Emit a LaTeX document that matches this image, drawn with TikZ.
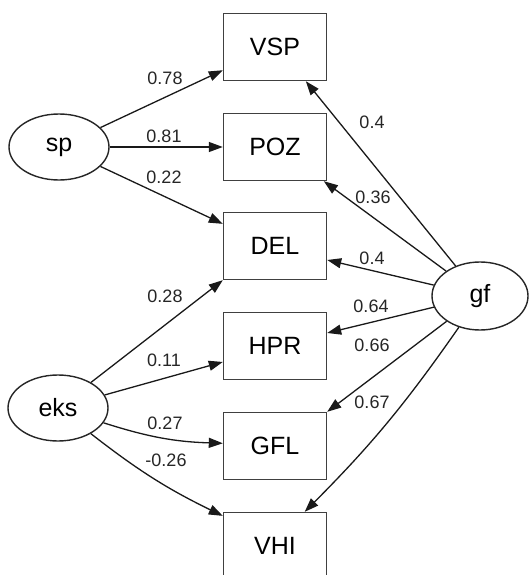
\documentclass[tikz,border=0pt]{standalone}
\usepackage{fontspec}
\setmainfont{Liberation Sans}
\usetikzlibrary{arrows.meta,shapes.geometric}
\begin{document}
\begin{tikzpicture}[x=1pt,y=1pt,
  obs/.style={draw=black!75,line width=1.4pt,minimum width=103pt,minimum height=67pt,inner sep=0pt,font=\fontsize{25}{30}\selectfont},
  lat/.style={draw=black!85,line width=1.4pt,ellipse,minimum width=100pt,minimum height=66pt,inner sep=0pt,font=\fontsize{25}{30}\selectfont},
  conn/.style={draw=black!90,line width=1.3pt,-{Triangle[length=14pt,width=10pt]}},
  coef/.style={font=\fontsize{18}{20}\selectfont,inner sep=0pt,text=black!85}]
\useasboundingbox (0,0) rectangle (529,-575);
% observed variables
\node[obs] (VSP) at (275,-47) {VSP};
\node[obs] (POZ) at (275,-147) {POZ};
\node[obs] (DEL) at (275,-246) {DEL};
\node[obs] (HPR) at (275,-346) {HPR};
\node[obs] (GFL) at (275,-446) {GFL};
\node[obs] (VHI) at (275,-546) {VHI};
% latent variables
\node[lat] (sp) at (59,-147) {sp};
\node[lat] (eks) at (58,-408) {eks};
\node[lat,minimum width=96pt,minimum height=68pt] (gf) at (480,-296) {gf};
% sp paths
\draw[conn] (sp) -- (VSP.204);
\draw[conn] (sp) -- (POZ);
\draw[conn] (sp) -- (DEL.157);
% gf paths
\draw[conn] (gf) -- (VSP.-48);
\draw[conn] (gf) -- (POZ.-35);
\draw[conn] (gf) -- (DEL.-15);
\draw[conn] (gf) -- (HPR.14);
\draw[conn] (gf) -- (GFL.north east);
\draw[conn] (gf) to[bend left=5] (VHI.49);
% eks paths
\draw[conn] (eks) -- (DEL.south west);
\draw[conn] (eks) -- (HPR.197);
\draw[conn] (eks.-18) to[bend right=8] (GFL.177);
\draw[conn] (eks.-38) to[bend right=6] (VHI.150);
% coefficients
\node[coef] (c1) at (165,-78) {0.78};
\node[coef] (c2) at (164,-136) {0.81};
\node[coef] (c3) at (164,-177) {0.22};
\node[coef] (c4) at (372,-122) {0.4};
\node[coef] (c5) at (373,-197) {0.36};
\node[coef] (c6) at (372,-258) {0.4};
\node[coef] (c7) at (165,-296) {0.28};
\node[coef] (c8) at (371,-306) {0.64};
\node[coef] (c9) at (164,-360) {0.11};
\node[coef] (c10) at (372,-345) {0.66};
\node[coef] (c11) at (372,-402) {0.67};
\node[coef] (c12) at (165,-423) {0.27};
\node[coef] (c13) at (166,-460) {-0.26};
\end{tikzpicture}
\end{document}
